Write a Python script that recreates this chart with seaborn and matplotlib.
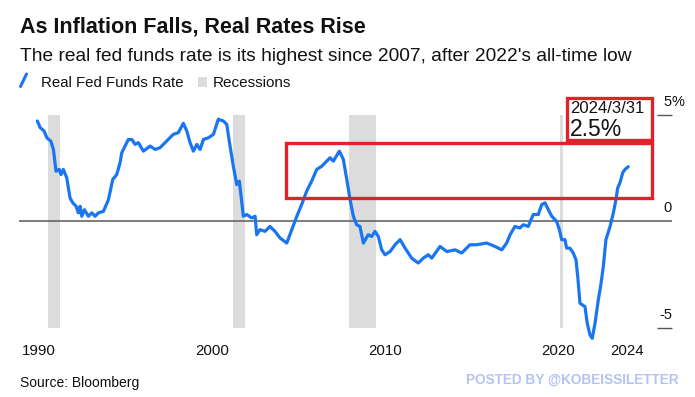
import pandas as pd
import seaborn as sns
import matplotlib.pyplot as plt
from matplotlib.lines import Line2D
from matplotlib.patches import Rectangle
import matplotlib.transforms as mtransforms

# Real fed funds rate (%), decimal years
years = [
    1989.90, 1990.06, 1990.29, 1990.45, 1990.68, 1990.83, 1990.98, 1991.17, 1991.27, 1991.40,
    1991.60, 1991.79, 1991.95, 1992.14, 1992.27, 1992.37, 1992.47, 1992.62, 1992.85, 1993.05,
    1993.24, 1993.43, 1993.72, 1994.01, 1994.26, 1994.49, 1994.68, 1994.78, 1994.97, 1995.16,
    1995.36, 1995.55, 1995.74, 1996.03, 1996.42, 1996.71, 1996.99, 1997.28, 1997.76, 1998.05,
    1998.34, 1998.54, 1998.73, 1998.92, 1999.12, 1999.31, 1999.50, 1999.79, 2000.08, 2000.36,
    2000.65, 2000.85, 2001.04, 2001.23, 2001.43, 2001.58, 2001.72, 2001.81, 2002.01, 2002.29,
    2002.49, 2002.58, 2002.77, 2003.06, 2003.35, 2003.64, 2003.93, 2004.32, 2004.61, 2004.90,
    2005.18, 2005.47, 2005.76, 2006.05, 2006.34, 2006.53, 2006.82, 2007.01, 2007.36, 2007.59,
    2007.79, 2007.98, 2008.17, 2008.36, 2008.55, 2008.75, 2009.03, 2009.23, 2009.42, 2009.61,
    2009.81, 2010.00, 2010.29, 2010.58, 2010.87, 2011.16, 2011.54, 2011.92, 2012.21, 2012.50,
    2012.70, 2013.18, 2013.57, 2014.05, 2014.43, 2014.91, 2015.30, 2015.88, 2016.36, 2016.75,
    2017.03, 2017.23, 2017.51, 2017.80, 2017.99, 2018.28, 2018.57, 2018.86, 2019.06, 2019.25,
    2019.44, 2019.64, 2019.92, 2020.08, 2020.21, 2020.40, 2020.50, 2020.69, 2020.88, 2021.04,
    2021.14, 2021.27, 2021.56, 2021.69, 2021.85, 2021.98, 2022.14, 2022.33, 2022.49, 2022.62,
    2022.77, 2023.01, 2023.20, 2023.35, 2023.45, 2023.58, 2023.74, 2023.87, 2024.06,
]
rates = [
    4.72, 4.41, 4.25, 3.93, 3.77, 3.38, 2.36, 2.44, 2.20, 2.44,
    2.05, 1.10, 0.87, 0.71, 0.40, 0.71, 0.24, 0.55, 0.24, 0.40,
    0.24, 0.40, 0.47, 1.02, 1.97, 2.20, 2.75, 3.22, 3.54, 3.85,
    3.85, 3.62, 3.70, 3.30, 3.54, 3.38, 3.46, 3.70, 4.09, 4.17,
    4.61, 4.25, 3.70, 3.30, 3.62, 3.38, 3.85, 3.93, 4.09, 4.80,
    4.72, 4.56, 3.54, 2.59, 1.73, 1.89, 0.87, 0.24, 0.32, 0.16,
    0.24, -0.63, -0.39, -0.47, -0.24, -0.47, -0.78, -1.02, -0.39, 0.24,
    0.79, 1.42, 1.89, 2.44, 2.59, 2.75, 2.99, 2.83, 3.30, 2.91,
    1.97, 1.02, 0.24, -0.16, -0.24, -1.02, -0.63, -0.71, -0.47, -0.71,
    -1.34, -1.57, -1.42, -1.10, -0.86, -1.26, -1.73, -1.96, -1.73, -1.57,
    -1.73, -1.18, -1.42, -1.34, -1.49, -1.10, -1.10, -1.02, -1.18, -1.34,
    -1.02, -0.63, -0.24, -0.31, -0.16, -0.24, 0.32, 0.32, 0.79, 0.87,
    0.55, 0.24, 0.00, -0.39, -0.86, -0.86, -1.26, -1.26, -1.49, -1.81,
    -2.59, -3.85, -4.01, -4.79, -5.34, -5.50, -4.79, -3.69, -2.91, -2.12,
    -0.86, -0.24, 0.40, 1.02, 1.57, 1.81, 2.28, 2.44, 2.57,
]

# NBER recessions (start, end)
recession_starts = [1990.50, 2001.20, 2007.92, 2020.10]
recession_ends = [1991.20, 2001.88, 2009.48, 2020.28]

year_ticks = [1990, 2000, 2010, 2020, 2024]
value_ticks = [5, 0, -5]
value_labels = ["5", "0", "-5"]

latest_date = "2024/3/31"
latest_label = "2.5%"

BLUE = "#1a76f0"
RED = "#e3212b"
GREY = "#dcdcdc"

df = pd.DataFrame({"year": years, "rate": rates})

sns.set_style("white")
plt.rcParams["font.family"] = ["Liberation Sans", "DejaVu Sans"]

W, H = 695, 397
fig = plt.figure(figsize=(W / 100, H / 100), dpi=100)


def fx(px):
    return px / W


def fy(py):
    return 1 - py / H


ax = fig.add_axes([fx(19), fy(327.7), fx(672 - 19), (327.7 - 115) / H])

for start, end in zip(recession_starts, recession_ends):
    ax.axvspan(start, end, color=GREY, lw=0, zorder=0)

ax.axhline(0, color="#666666", lw=1.2, zorder=1)

sns.lineplot(data=df, x="year", y="rate", ax=ax, color=BLUE, lw=2.3,
             clip_on=False, zorder=3)

ax.set_xlim(1988.84, 2026.59)
ax.set_ylim(-5, 5)
for side in ["top", "right", "left", "bottom"]:
    ax.spines[side].set_visible(False)
ax.set_xlabel("")
ax.set_ylabel("")

ax.set_xticks(year_ticks)
ax.set_xticklabels([str(y) for y in year_ticks])
ax.tick_params(axis="x", direction="out", length=4, width=1, color="#555555",
               pad=7.5, labelsize=10.8, labelcolor="#111111")

# short right-hand ticks for +/-5, labels sit above the line
ax.yaxis.tick_right()
ax.set_yticks([-5, 5])
ax.tick_params(axis="y", direction="in", length=11, width=1, color="#555555",
               labelright=False, labelleft=False)
trans = mtransforms.blended_transform_factory(ax.transAxes, ax.transData)
for v, lab in zip(value_ticks, value_labels):
    ax.annotate(lab, xy=(1, v), xycoords=trans, xytext=(0, 6.5),
                textcoords="offset points", ha="right", va="baseline",
                fontsize=10.5, color="#111111", annotation_clip=False)
ax.annotate("%", xy=(1, 5), xycoords=trans, xytext=(0, 6.5),
            textcoords="offset points", ha="left", va="baseline",
            fontsize=10.5, color="#111111", annotation_clip=False)

# highlight boxes
ax.add_patch(Rectangle((2004.27, 1.09), 2025.41 - 2004.27, 3.67 - 1.09,
                       fill=False, ec=RED, lw=2.4, clip_on=False, zorder=4))
ax.add_patch(Rectangle((2020.50, 3.83), 2025.41 - 2020.50, 5.79 - 3.83,
                       fill=False, ec=RED, lw=2.4, clip_on=False, zorder=4))
ax.text(2020.69, 5.10, latest_date, fontsize=12, color="#111111",
        va="baseline", ha="left", clip_on=False)
ax.text(2020.69, 4.01, latest_label, fontsize=16.5, color="#111111",
        va="baseline", ha="left", clip_on=False)

# titles
fig.text(fx(20), fy(33), "As Inflation Falls, Real Rates Rise",
         fontsize=15.5, fontweight="bold", color="#111111", va="baseline")
fig.text(fx(20), fy(60.7),
         "The real fed funds rate is its highest since 2007, after 2022's all-time low",
         fontsize=13.8, color="#111111", va="baseline")

# legend
fig.add_artist(Line2D([fx(20.5), fx(26.5)], [fy(86.5), fy(74)], color=BLUE, lw=2.2))
fig.text(fx(40.7), fy(87.3), "Real Fed Funds Rate", fontsize=10.8,
         color="#111111", va="baseline")
fig.add_artist(Rectangle((fx(198), fy(87)), fx(9), 10 / H, color=GREY, lw=0))
fig.text(fx(213), fy(87.3), "Recessions", fontsize=11,
         color="#111111", va="baseline")

fig.text(fx(20), fy(386.7), "Source: Bloomberg", fontsize=10,
         color="#111111", va="baseline")
fig.text(fx(678.3), fy(383.3), "POSTED BY @KOBEISSILETTER", fontsize=9.8,
         fontweight="bold", color="#b3c4f2", ha="right", va="baseline")

fig.savefig("out.png", dpi=100)
